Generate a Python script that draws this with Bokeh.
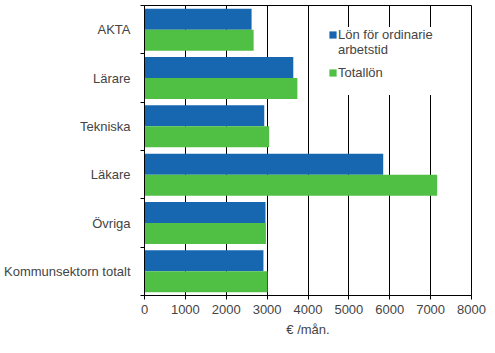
from bokeh.plotting import figure
from bokeh.models import (Range1d, FixedTicker, Legend, LegendItem, ColumnDataSource)
from bokeh.embed import file_html
from bokeh.resources import INLINE

categories = ["AKTA", "Lärare", "Tekniska", "Läkare", "Övriga", "Kommunsektorn totalt"]
ordinarie = [2620, 3640, 2930, 5840, 2960, 2910]
totallon = [2670, 3740, 3050, 7160, 2970, 3010]
x_ticks = [0, 1000, 2000, 3000, 4000, 5000, 6000, 7000, 8000]
series_label_lines = ["Lön för ordinarie", "arbetstid"]
series_label_2 = "Totallön"
x_label = "€ /mån."

BLUE = "#1767b0"
GREEN = "#50c044"
FONT = "Liberation Sans"
n = len(categories)
centers = [i + 0.5 for i in range(n)]
bar_h = 0.435

src = ColumnDataSource(dict(
    y1=[c - bar_h / 2 for c in centers],
    y2=[c + bar_h / 2 for c in centers],
    ordinarie=ordinarie,
    totallon=totallon,
))

p = figure(width=495, height=353, output_backend="svg", toolbar_location=None,
           x_range=Range1d(0, 8000), y_range=Range1d(n, 0),
           min_border_left=144, min_border_right=24, min_border_top=5, min_border_bottom=58)

r1 = p.hbar(y="y1", right="ordinarie", left=0, height=bar_h, source=src,
            fill_color=BLUE, line_color=None)
r2 = p.hbar(y="y2", right="totallon", left=0, height=bar_h, source=src,
            fill_color=GREEN, line_color=None)
# invisible renderer used only for legend text lines without a swatch
rdummy = p.hbar(y=[], right=[], left=0, height=bar_h, fill_alpha=0, line_alpha=0)

p.outline_line_color = "black"
p.outline_line_width = 1
p.background_fill_color = "white"
p.border_fill_color = "white"

# x axis
p.xaxis.ticker = FixedTicker(ticks=x_ticks)
p.xaxis.axis_label = x_label
p.xaxis.axis_label_text_font = FONT
p.xaxis.axis_label_text_font_size = "13px"
p.xaxis.axis_label_text_font_style = "normal"
p.xaxis.axis_label_standoff = 5
p.xaxis.major_label_text_font = FONT
p.xaxis.major_label_text_font_size = "13px"
p.xaxis.major_label_standoff = 5
p.xaxis.major_tick_in = 0
p.xaxis.major_tick_out = 4
p.xaxis.minor_tick_line_color = None
p.xaxis.axis_line_color = "black"
p.xaxis.major_tick_line_color = "black"

# y axis: labels at centers, ticks at boundaries
p.yaxis.ticker = FixedTicker(ticks=centers, minor_ticks=list(range(n + 1)))
p.yaxis.major_label_overrides = {c: lab for c, lab in zip(centers, categories)}
p.yaxis.major_tick_line_color = None
p.yaxis.minor_tick_line_color = "black"
p.yaxis.minor_tick_in = 0
p.yaxis.minor_tick_out = 4
p.yaxis.major_label_standoff = 8
p.yaxis.major_label_text_font = FONT
p.yaxis.major_label_text_font_size = "13px"
p.yaxis.axis_line_color = "black"

p.xgrid.grid_line_color = "black"
p.xgrid.grid_line_alpha = 1
p.ygrid.grid_line_color = None


def make_legend(items, loc):
    lg = Legend(items=items, location=loc)
    lg.label_text_font = FONT
    lg.label_text_font_size = "13px"
    lg.glyph_width = 9
    lg.glyph_height = 9
    lg.label_height = 15
    lg.label_width = 98
    lg.label_standoff = 1
    lg.border_line_color = None
    lg.background_fill_color = "white"
    lg.background_fill_alpha = 1
    lg.padding = 4
    lg.spacing = 0
    lg.margin = 0
    return lg


legend_a = make_legend([LegendItem(label=series_label_lines[0], renderers=[r1]),
                        LegendItem(label=series_label_lines[1], renderers=[rdummy])],
                       (184, 238))
legend_b = make_legend([LegendItem(label=" ", renderers=[rdummy]),
                        LegendItem(label=series_label_2, renderers=[r2]),
                        LegendItem(label=" ", renderers=[rdummy])],
                       (184, 200))
p.add_layout(legend_b, "center")
p.add_layout(legend_a, "center")

open("out.html", "w").write(file_html(p, INLINE))
